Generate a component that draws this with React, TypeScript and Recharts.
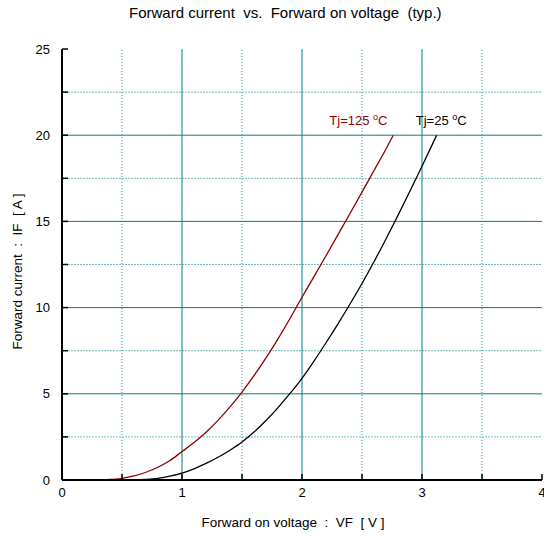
import { LineChart, Line, XAxis, YAxis, ReferenceLine, ReferenceDot } from 'recharts';

const vf125 = [0, 0.3, 0.4, 0.5, 0.6, 0.7, 0.8, 0.9, 1.0, 1.1, 1.2, 1.3, 1.4, 1.5, 1.6, 1.7, 1.8, 1.9, 2.0, 2.1, 2.2, 2.3, 2.4, 2.5, 2.6, 2.7, 2.76];
const if125 = [0, 0, 0.03, 0.1, 0.24, 0.45, 0.74, 1.13, 1.65, 2.17, 2.77, 3.46, 4.24, 5.1, 6.05, 7.08, 8.19, 9.37, 10.6, 11.8, 13.01, 14.23, 15.46, 16.7, 17.95, 19.2, 20];
const vf25 = [0, 0.5, 0.6, 0.7, 0.8, 0.9, 1.0, 1.1, 1.2, 1.3, 1.4, 1.5, 1.6, 1.7, 1.8, 1.9, 2.0, 2.1, 2.2, 2.3, 2.4, 2.5, 2.6, 2.7, 2.8, 2.9, 3.0, 3.1, 3.122];
const if25 = [0, 0, 0.01, 0.04, 0.1, 0.22, 0.4, 0.65, 0.96, 1.32, 1.73, 2.2, 2.78, 3.45, 4.2, 5.02, 5.9, 6.9, 7.96, 9.06, 10.21, 11.4, 12.66, 13.98, 15.35, 16.76, 18.2, 19.67, 20];

const xTicks = [0, 0.5, 1, 1.5, 2, 2.5, 3, 3.5, 4];
const yTicks = [0, 2.5, 5, 7.5, 10, 12.5, 15, 17.5, 20, 22.5, 25];
const xMajor = [1, 2, 3];
const xMinor = [0.5, 1.5, 2.5, 3.5];
const yMajor = [5, 10, 15, 20];
const yMinor = [2.5, 7.5, 12.5, 17.5, 22.5];

const data125 = vf125.map((v, i) => ({ v, i: if125[i] }));
const data25 = vf25.map((v, i) => ({ v, i: if25[i] }));

const FONT = '"Liberation Sans", Arial, sans-serif';
const TEAL = '#008080';

function showMajor(step: number) {
  return (val: number) => (val % step === 0 ? String(val) : '');
}

function CurveLabel({ viewBox, text, color }: any) {
  const cx = viewBox.x + viewBox.width / 2;
  const cy = viewBox.y + viewBox.height / 2;
  return (
    <text x={cx} y={cy + 5} textAnchor="middle" fill={color} fontSize={13} fontFamily={FONT} style={{ whiteSpace: 'pre' }}>
      {text} <tspan fontSize={9} dy={-5}>o</tspan><tspan dy={5}>C</tspan>
    </text>
  );
}

export default function App() {
  return (
    <div style={{ position: 'absolute', left: 0, top: 0, width: 544, height: 536, background: '#fff' }}>
      <div style={{ position: 'absolute', left: 129, top: 4, fontFamily: FONT, fontSize: 15, color: '#000', whiteSpace: 'pre' }}>
        Forward current  vs.  Forward on voltage  (typ.)
      </div>
      <LineChart width={544} height={536} margin={{ top: 49, right: 2, bottom: 26, left: 22 }}>
        {xMinor.map((v) => (
          <ReferenceLine key={'xm' + v} x={v} stroke={TEAL} strokeOpacity={0.8} strokeDasharray="1 2" />
        ))}
        {yMinor.map((v) => (
          <ReferenceLine key={'ym' + v} y={v} stroke={TEAL} strokeOpacity={0.55} strokeDasharray="2 1" />
        ))}
        {xMajor.map((v) => (
          <ReferenceLine key={'xM' + v} x={v} stroke={TEAL} />
        ))}
        {yMajor.map((v) => (
          <ReferenceLine key={'yM' + v} y={v} stroke={TEAL} />
        ))}
        <XAxis
          type="number"
          dataKey="v"
          domain={[0, 4]}
          ticks={xTicks}
          interval={0}
          allowDataOverflow
          height={30}
          tickSize={-6}
          tickMargin={14}
          tickFormatter={showMajor(1)}
          tick={{ fill: '#000', fontSize: 13, fontFamily: FONT }}
          axisLine={{ stroke: '#000', strokeWidth: 2 }}
          tickLine={{ stroke: '#000', strokeWidth: 1.5 }}
          label={{
            content: ({ viewBox }: any) => (
              <text x={viewBox.x + viewBox.width / 2 - 9} y={viewBox.y + 47} textAnchor="middle" fontSize={13.5} fontFamily={FONT} fill="#000" style={{ whiteSpace: 'pre' }}>
                Forward on voltage  :  VF  [ V ]
              </text>
            ),
          }}
        />
        <XAxis
          xAxisId="top"
          orientation="top"
          type="number"
          dataKey="v"
          domain={[0, 4]}
          ticks={xTicks}
          interval={0}
          height={0}
          tickSize={-6}
          tickFormatter={() => ''}
          axisLine={{ stroke: '#000', strokeWidth: 2 }}
          tickLine={{ stroke: '#000', strokeWidth: 1.5 }}
        />
        <YAxis
          type="number"
          domain={[0, 25]}
          ticks={yTicks}
          interval={0}
          allowDataOverflow
          width={40}
          tickSize={-6}
          tickMargin={18}
          tickFormatter={showMajor(5)}
          tick={{ fill: '#000', fontSize: 13, fontFamily: FONT }}
          axisLine={{ stroke: '#000', strokeWidth: 2 }}
          tickLine={{ stroke: '#000', strokeWidth: 1.5 }}
          label={{
            content: ({ viewBox }: any) => {
              const cx = viewBox.x - 5;
              const cy = viewBox.y + viewBox.height / 2 + 7;
              return (
                <text x={cx} y={cy} transform={`rotate(-90 ${cx} ${cy})`} textAnchor="middle" dominantBaseline="central" fontSize={13.5} fontFamily={FONT} fill="#000" style={{ whiteSpace: 'pre' }}>
                  Forward current  :  IF  [ A ]
                </text>
              );
            },
          }}
        />
        <YAxis
          yAxisId="right"
          orientation="right"
          type="number"
          domain={[0, 25]}
          ticks={yTicks}
          interval={0}
          width={0}
          tickSize={-6}
          tickFormatter={() => ''}
          axisLine={{ stroke: '#000', strokeWidth: 2 }}
          tickLine={{ stroke: '#000', strokeWidth: 1.5 }}
        />
        <Line data={data125} dataKey="i" type="monotone" stroke="#8B0000" strokeWidth={1.3} dot={false} isAnimationActive={false} />
        <Line data={data25} dataKey="i" type="monotone" stroke="#000" strokeWidth={1.3} dot={false} isAnimationActive={false} />
        <ReferenceDot x={2.47} y={20.9} r={0} fill="none" stroke="none" label={{ content: (p: any) => <CurveLabel {...p} text="Tj=125" color="#8B0000" /> }} />
        <ReferenceDot x={3.16} y={20.9} r={0} fill="none" stroke="none" label={{ content: (p: any) => <CurveLabel {...p} text="Tj=25" color="#000" /> }} />
      </LineChart>
    </div>
  );
}
